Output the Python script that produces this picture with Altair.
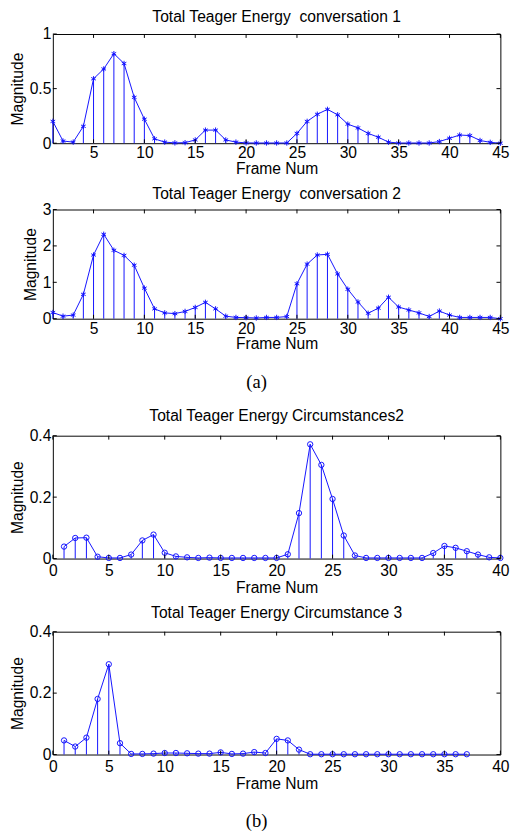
import altair as alt
import pandas as pd

BLUE = "#1010ff"

frames45 = list(range(1, 46))
conv1 = [0.20, 0.02, 0.01, 0.155, 0.59, 0.68, 0.82, 0.73, 0.42, 0.22,
         0.04, 0.01, 0.003, 0.005, 0.03, 0.12, 0.12, 0.03, 0.01, 0.003,
         0.002, 0.002, 0.002, 0.002, 0.09, 0.20, 0.265, 0.31, 0.26, 0.175,
         0.14, 0.09, 0.055, 0.01, 0.002, 0.002, 0.002, 0.002, 0.015, 0.045,
         0.075, 0.07, 0.025, 0.008, 0.0]
conv2 = [0.17, 0.07, 0.10, 0.67, 1.75, 2.32, 1.88, 1.74, 1.47, 0.84,
         0.27, 0.16, 0.14, 0.20, 0.31, 0.45, 0.27, 0.07, 0.035, 0.03,
         0.02, 0.035, 0.035, 0.06, 0.96, 1.50, 1.75, 1.77, 1.23, 0.81,
         0.46, 0.15, 0.29, 0.59, 0.32, 0.24, 0.16, 0.06, 0.21, 0.10,
         0.035, 0.035, 0.035, 0.035, 0.0]
frames40 = list(range(1, 41))
circ2 = [0.039, 0.067, 0.068, 0.006, 0.002, 0.002, 0.013, 0.059, 0.078, 0.019,
         0.007, 0.004, 0.002, 0.003, 0.002, 0.002, 0.002, 0.002, 0.002, 0.002,
         0.014, 0.148, 0.372, 0.305, 0.194, 0.075, 0.010, 0.002, 0.002, 0.002,
         0.002, 0.002, 0.002, 0.018, 0.041, 0.035, 0.024, 0.013, 0.004, 0.002]
frames37 = list(range(1, 38))
circ3 = [0.046, 0.026, 0.055, 0.181, 0.294, 0.037, 0.002, 0.002, 0.003, 0.005,
         0.005, 0.004, 0.003, 0.003, 0.007, 0.002, 0.003, 0.008, 0.005, 0.051,
         0.046, 0.016, 0.001, 0.001, 0.001, 0.001, 0.001, 0.001, 0.001, 0.001,
         0.001, 0.001, 0.001, 0.001, 0.001, 0.001, 0.001]

titles = ["Total Teager Energy\u00a0 conversation 1",
          "Total Teager Energy\u00a0 conversation 2",
          "Total Teager Energy Circumstances2",
          "Total Teager Energy Circumstance 3"]
captions = ["(a)", "(b)"]

xticks45 = [5, 10, 15, 20, 25, 30, 35, 40, 45]
xticks40 = [0, 5, 10, 15, 20, 25, 30, 35, 40]
yticks1 = [0, 0.5, 1]
yticks2 = [0, 1, 2, 3]
yticks3 = [0, 0.2, 0.4]

ASTERISK = "M0,-1L0,1M-0.87,-0.5L0.87,0.5M-0.87,0.5L0.87,-0.5"
W = 459
FONT = "Liberation Sans"
FS = 16


def panel(xs, ys, title, xdom, xticks, ydom, yticks, h, shape, size,
          toff, lpad, tpad):
    df = pd.DataFrame({"x": xs, "y": ys})
    xscale = alt.Scale(domain=xdom, nice=False, zero=False)
    yscale = alt.Scale(domain=ydom, nice=False, zero=False)
    xaxis = alt.Axis(values=xticks, title="Frame Num", ticks=False, domain=False,
                     grid=False, labelFlush=False, labelPadding=lpad, titlePadding=tpad)
    yaxis = alt.Axis(values=yticks, title="Magnitude", format="~g", ticks=False,
                     domain=False, grid=False, labelPadding=2, titlePadding=4)
    X = alt.X("x:Q", scale=xscale, axis=xaxis)
    Y = alt.Y("y:Q", scale=yscale, axis=yaxis)
    stems = alt.Chart(df).mark_rule(color=BLUE, strokeWidth=1).encode(
        x=X, y=Y, y2=alt.datum(0))
    line = alt.Chart(df).mark_line(color=BLUE, strokeWidth=1).encode(x=X, y=Y)
    pts = alt.Chart(df).mark_point(shape=shape, filled=False, color=BLUE,
                                   size=size, strokeWidth=1, opacity=1).encode(x=X, y=Y)
    xt = pd.DataFrame({"x": xticks})
    yt = pd.DataFrame({"y": yticks})
    tb = alt.Chart(xt).mark_rule(color="black", strokeWidth=1).encode(
        x=X, y=alt.value(h), y2=alt.value(h - 4))
    tt = alt.Chart(xt).mark_rule(color="black", strokeWidth=1).encode(
        x=X, y=alt.value(0), y2=alt.value(4))
    tl = alt.Chart(yt).mark_rule(color="black", strokeWidth=1).encode(
        y=Y, x=alt.value(0), x2=alt.value(4))
    tr = alt.Chart(yt).mark_rule(color="black", strokeWidth=1).encode(
        y=Y, x=alt.value(W), x2=alt.value(W - 4))
    return alt.layer(stems, line, pts, tb, tt, tl, tr).properties(
        width=W, height=h,
        title=alt.TitleParams(title, fontSize=FS, font=FONT, fontWeight="normal",
                              color="black", offset=toff, frame="group", anchor="middle"))


def caption(text, h, ypos):
    return alt.Chart(pd.DataFrame({"c": [text]})).mark_text(
        font="Liberation Serif", fontSize=19, baseline="middle", color="black").encode(
        text="c:N", x=alt.value(209), y=alt.value(ypos)).properties(
        width=W, height=h, view=alt.ViewBackground(strokeOpacity=0))


p1 = panel(frames45, conv1, titles[0], [1, 45], xticks45, [0, 1], yticks1, 112,
           ASTERISK, 30, 1, 2, 0)
p2 = panel(frames45, conv2, titles[1], [1, 45], xticks45, [0, 3], yticks2, 112,
           ASTERISK, 30, 0, 2, 0)
p3 = panel(frames40, circ2, titles[2], [0, 40], xticks40, [0, 0.4], yticks3, 126,
           "circle", 30, 4, 4, 2)
p4 = panel(frames37, circ3, titles[3], [0, 40], xticks40, [0, 0.4], yticks3, 126,
           "circle", 30, 3, 4, 2)

chart = alt.vconcat(p1, p2, caption(captions[0], 40, 22), p3, p4,
                    caption(captions[1], 30, 21),
                    spacing=8).configure(
    padding={"left": 1, "top": -10, "right": 5, "bottom": 0}
).configure_view(stroke="black", strokeWidth=1).configure_axis(
    labelFont=FONT, titleFont=FONT, labelFontSize=FS, titleFontSize=FS,
    labelColor="black", titleColor="black", titleFontWeight="normal")

chart.save("out.html", embed_options={"renderer": "svg", "actions": False})
